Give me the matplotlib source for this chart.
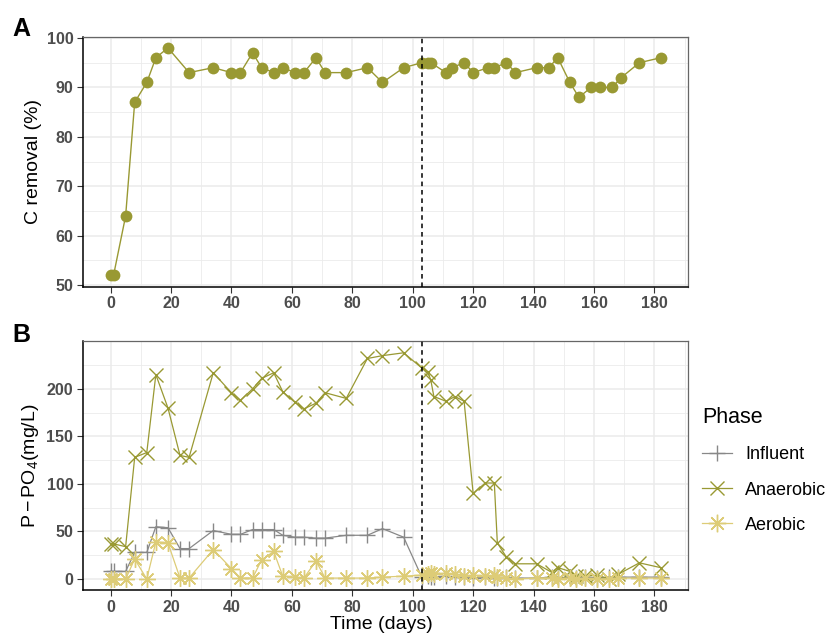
import matplotlib
matplotlib.use("Agg")
import matplotlib.pyplot as plt
from matplotlib.ticker import MultipleLocator

plt.rcParams['font.family'] = ['Liberation Sans', 'DejaVu Sans']
plt.rcParams['mathtext.fontset'] = 'custom'
plt.rcParams['mathtext.rm'] = 'Liberation Sans'
plt.rcParams['mathtext.it'] = 'Liberation Sans:italic'

# --- Panel A : carbon removal ---
days_c = [0, 1, 5, 8, 12, 15, 19, 26, 34, 40, 43, 47, 50, 54, 57, 61, 64, 68, 71, 78,
          85, 90, 97, 103, 105, 106, 111, 113, 117, 120, 125, 127, 131, 134, 141, 145, 148,
          152, 155, 159, 162, 166, 169, 175, 182]
c_removal = [52, 52, 64, 87, 91, 96, 98, 93, 94, 93, 93, 97, 94, 93, 94, 93, 93, 96, 93, 93,
             94, 91, 94, 95, 95, 95, 93, 94, 95, 93, 94, 94, 95, 93, 94, 94, 96,
             91, 88, 90, 90, 90, 92, 95, 96]

# --- Panel B : P-PO4 per phase ---
days_p = [0, 1, 5, 8, 12, 15, 19, 23, 26, 34, 40, 43, 47, 50, 54, 57, 61, 64, 68, 71, 78,
          85, 90, 97, 103, 105, 106, 107, 111, 114, 117, 120, 124, 127, 128, 131, 134, 141,
          146, 148, 152, 154, 157, 161, 165, 168, 175, 182]
influent = [8, 8, 8, 28, 28, 55, 54, 32, 32, 51, 47, 47, 52, 52, 52, 46, 44, 44, 43, 43, 46,
            46, 53, 44, 2, 3, 2, 2, 3, 2, 2, 1, 2, 1, 1, 2, 1, 1,
            2, 1, 2, 1, 2, 1, 2, 2, 2, 2]
anaerobic = [37, 37, 34, 128, 133, 215, 180, 130, 128, 217, 196, 188, 200, 211, 217, 197, 186,
             179, 185, 196, 190, 232, 235, 238, 222, 218, 209, 192, 187, 192, 187, 90, 101, 101,
             38, 23, 16, 16, 7, 12, 8, 3, 3, 4, 0, 5, 17, 12]
aerobic = [0, 0, 0, 21, 0, 39, 38, 1, 1, 31, 11, 1, 1, 20, 29, 3, 2, 1, 19, 1, 1,
           1, 2, 3, 4, 5, 6, 5, 6, 5, 3, 4, 3, 4, 2, 1, 0, 1,
           1, 0, 1, 0, 1, 0, 0, 1, 1, 1]

phase_change = 103

olive = '#999933'
sand = '#DDCC77'
grey = '#888888'


def style_axes(ax):
    ax.set_xlim(-9.1, 191.1)
    ax.xaxis.set_major_locator(MultipleLocator(20))
    ax.xaxis.set_minor_locator(MultipleLocator(10))
    ax.grid(True, which='major', color='#EBEBEB', lw=1.1, zorder=0)
    ax.grid(True, which='minor', color='#EBEBEB', lw=0.6, zorder=0)
    ax.set_axisbelow(True)
    ax.tick_params(which='minor', length=0)
    ax.tick_params(which='major', length=4, width=0.8, color='#333333',
                   labelsize=11.5, labelcolor='#4D4D4D', pad=3)
    for lab in ax.get_xticklabels() + ax.get_yticklabels():
        lab.set_fontweight('bold')
    for side in ['top', 'right']:
        ax.spines[side].set_color('#666666')
        ax.spines[side].set_linewidth(0.9)
    for side in ['left', 'bottom']:
        ax.spines[side].set_color('black')
        ax.spines[side].set_linewidth(1.1)
    ax.axvline(phase_change, color='black', ls=(0, (3, 2.5)), lw=1.1, zorder=5)


fig = plt.figure(figsize=(8.36, 6.34), dpi=100)
ax1 = fig.add_axes([0.0993, 0.5478, 0.7237, 0.3946])
ax2 = fig.add_axes([0.0993, 0.0689, 0.7237, 0.3925])

# A
ax1.plot(days_c, c_removal, color=olive, lw=1.0, marker='o', ms=8.5,
         markeredgewidth=0, zorder=3)
ax1.set_ylim(49.7, 100.3)
ax1.yaxis.set_major_locator(MultipleLocator(10))
ax1.yaxis.set_minor_locator(MultipleLocator(5))
style_axes(ax1)

# B
ax2.plot(days_p, influent, color=grey, lw=0.9, marker='+', ms=11, mew=1.0,
         label='Influent', zorder=3)
ax2.plot(days_p, anaerobic, color=olive, lw=0.9, marker='x', ms=10, mew=1.0,
         label='Anaerobic', zorder=3)
ax2.plot(days_p, aerobic, color=sand, lw=0.9, marker=(8, 2, 0), ms=12, mew=1.0,
         label='Aerobic', zorder=3)
ax2.set_ylim(-11.9, 249.9)
ax2.yaxis.set_major_locator(MultipleLocator(50))
ax2.yaxis.set_minor_locator(MultipleLocator(25))
style_axes(ax2)

# labels
fig.text(0.026, 0.955, 'A', fontsize=18, fontweight='bold', ha='center', va='center')
fig.text(0.026, 0.472, 'B', fontsize=18, fontweight='bold', ha='center', va='center')
fig.text(0.040, 0.746, 'C removal (%)', fontsize=14, rotation=90, ha='center', va='center')
fig.text(0.037, 0.265, r'$\mathrm{P-PO_4(mg/L)}$', fontsize=14, rotation=90,
         ha='center', va='center')
fig.text(0.456, 0.015, 'Time (days)', fontsize=14, ha='center', va='center')

handles, labels = ax2.get_legend_handles_labels()
leg = fig.legend(handles, labels, title='Phase', loc='upper left',
                 bbox_to_anchor=(0.820, 0.383), frameon=False, fontsize=13,
                 title_fontsize=15.5, handlelength=1.7, handletextpad=0.7,
                 labelspacing=1.0, markerscale=1.05, alignment='left')

fig.savefig('out.png', dpi=100)
